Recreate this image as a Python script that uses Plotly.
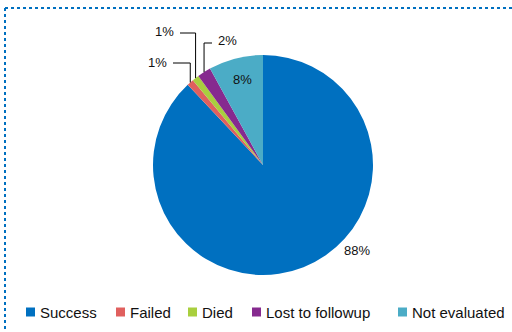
import math
import plotly.graph_objects as go

# Treatment outcome shares (%)
categories = ["Success", "Failed", "Died", "Lost to followup", "Not evaluated"]
values = [88, 1, 1, 2, 8]
colors = ["#0070C0", "#E0605E", "#A9CF3E", "#862A8F", "#4BACC6"]

W, H = 512, 332
CX, CY, R = 263, 165, 110          # pie centre and radius in pixels
FONT = "Liberation Sans, Arial, sans-serif"


def px(x):
    return x / W


def py(y):
    return 1 - y / H


fig = go.Figure(go.Pie(
    labels=categories, values=values, sort=False, direction="clockwise",
    rotation=0, marker=dict(colors=colors, line=dict(width=0)),
    textinfo="none", hoverinfo="label+percent", showlegend=False,
    domain=dict(x=[px(CX - R), px(CX + R)], y=[py(CY + R), py(CY - R)]),
))

total = sum(values)
cum = 0
mid_angles = []
for v in values:
    mid_angles.append((cum + v / 2) / total * 2 * math.pi)
    cum += v


def edge_point(i, frac=1.0):
    a = mid_angles[i]
    return CX + frac * R * math.sin(a), CY - frac * R * math.cos(a)


def label(x, y, text, size=13, xanchor="center"):
    return dict(x=px(x), y=py(y), text=text, showarrow=False,
                xref="paper", yref="paper", xanchor=xanchor, yanchor="middle",
                font=dict(family=FONT, size=size, color="#111"))


annotations = []
shapes = []

# Large slices: labels placed directly
annotations.append(label(357, 250, f"{values[0]}%"))
ix, iy = edge_point(4, 0.8)
annotations.append(label(ix + 1, iy, f"{values[4]}%"))

# Small slices: elbow leader lines (vertical up, then horizontal to text)
elbows = {1: (63, 173, "left"), 2: (33, 180, "left"), 3: (43, 212, "right")}
for i, (ey, ex, side) in elbows.items():
    sx, sy = edge_point(i)
    shapes.append(dict(type="line", xref="paper", yref="paper",
                       x0=px(sx), y0=py(sy), x1=px(sx), y1=py(ey),
                       line=dict(color="#000", width=1)))
    shapes.append(dict(type="line", xref="paper", yref="paper",
                       x0=px(sx), y0=py(ey), x1=px(ex), y1=py(ey),
                       line=dict(color="#000", width=1)))
    if side == "left":
        annotations.append(label(ex - 4, ey - 1, f"{values[i]}%", xanchor="right"))
    else:
        annotations.append(label(ex + 4, ey - 2, f"{values[i]}%", xanchor="left"))

# Legend row
legend_x = [26, 116, 188, 252, 398]
LY = 312
for name, col, lx in zip(categories, colors, legend_x):
    shapes.append(dict(type="rect", xref="paper", yref="paper",
                       x0=px(lx), x1=px(lx + 9), y0=py(LY + 4.5), y1=py(LY - 4.5),
                       fillcolor=col, line=dict(width=0)))
    annotations.append(label(lx + 12, LY, name, size=15, xanchor="left"))

# Dotted frame (top and left edges)
frame = dict(color="#0070C0", width=2, dash="dot")
shapes.append(dict(type="line", xref="paper", yref="paper",
                   x0=px(5), y0=py(8), x1=px(W), y1=py(8), line=frame))
shapes.append(dict(type="line", xref="paper", yref="paper",
                   x0=px(5), y0=py(8), x1=px(5), y1=py(H), line=frame))

fig.update_layout(width=W, height=H, margin=dict(l=0, r=0, t=0, b=0),
                  paper_bgcolor="white", plot_bgcolor="white",
                  annotations=annotations, shapes=shapes)
fig.write_html("out.html")
